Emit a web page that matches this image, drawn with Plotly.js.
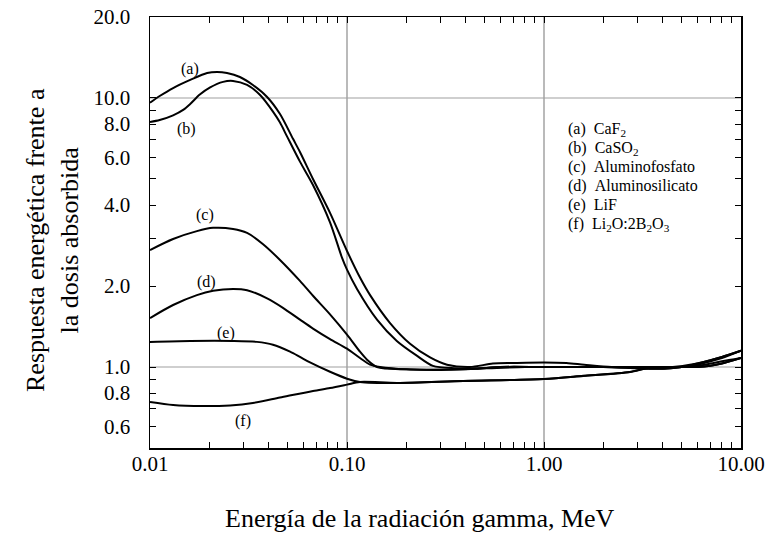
<!DOCTYPE html>
<html>
<head>
<meta charset="utf-8">
<script src="https://cdn.plot.ly/plotly-3.0.1.min.js"></script>
<style>html,body{margin:0;padding:0;background:#fff;}#chart{width:768px;height:537px;}</style>
</head>
<body>
<div id="chart"></div>
<script>
// Energy (MeV) and relative response for each material
var xA = [0.01, 0.0112, 0.0131, 0.016, 0.0195, 0.0219, 0.0246, 0.0286, 0.0333, 0.0393, 0.0457, 0.0532, 0.0577, 0.0672, 0.082, 0.1, 0.1164, 0.131, 0.165, 0.209, 0.264, 0.322, 0.42, 0.55, 0.7, 1.0, 1.3, 1.6, 2.2, 3.0, 4.0, 5.0, 6.0, 7.0, 8.0, 10.0];
var yA = [9.61, 10.17, 10.89, 11.67, 12.39, 12.50, 12.39, 11.97, 11.18, 10.09, 8.72, 7.05, 6.3, 5.0, 3.74, 2.7, 2.15, 1.85, 1.46, 1.22, 1.085, 1.02, 1.0, 1.03, 1.035, 1.04, 1.035, 1.02, 1.0, 1.0, 1.0, 1.0, 1.03, 1.06, 1.09, 1.15];

var xB = [0.01, 0.0112, 0.0131, 0.0148, 0.016, 0.0179, 0.0202, 0.0235, 0.0264, 0.0311, 0.0362, 0.0421, 0.0457, 0.0496, 0.0577, 0.0672, 0.082, 0.0943, 0.1, 0.1124, 0.142, 0.179, 0.227, 0.273, 0.35, 0.5, 0.8, 1.5, 3.0, 4.5, 6.0, 7.0, 8.0, 10.0];
var yB = [8.14, 8.28, 8.62, 9.05, 9.5, 10.3, 10.95, 11.48, 11.57, 11.18, 10.26, 8.9, 8.1, 7.2, 5.8, 4.75, 3.45, 2.55, 2.3, 1.95, 1.5, 1.25, 1.1, 1.01, 0.99, 0.99, 1.0, 1.0, 1.0, 1.0, 1.03, 1.06, 1.09, 1.15];

var xC = [0.01, 0.0131, 0.0173, 0.0209, 0.0264, 0.0311, 0.0375, 0.0457, 0.0577, 0.0672, 0.082, 0.1, 0.1164, 0.1264, 0.142, 0.2, 0.3, 0.45, 0.6, 1.0, 2.0, 3.0, 4.0, 5.0, 6.0, 7.0, 8.0, 10.0];
var yC = [2.72, 2.99, 3.20, 3.29, 3.26, 3.15, 2.86, 2.50, 2.09, 1.84, 1.57, 1.32, 1.14, 1.065, 1.0, 0.98, 0.975, 0.985, 1.0, 1.0, 1.0, 0.99, 0.985, 1.0, 1.02, 1.05, 1.08, 1.15];

var xD = [0.01, 0.0131, 0.0173, 0.0209, 0.0264, 0.0311, 0.0393, 0.0473, 0.0577, 0.0672, 0.082, 0.1, 0.1164, 0.1309, 0.147, 0.2, 0.3, 0.45, 0.6, 1.0, 2.0, 3.0, 4.0, 5.0, 6.0, 7.0, 8.0, 10.0];
var yD = [1.52, 1.70, 1.85, 1.92, 1.95, 1.93, 1.80, 1.66, 1.50, 1.39, 1.27, 1.17, 1.08, 1.02, 1.0, 0.98, 0.978, 0.985, 1.0, 1.0, 1.0, 0.99, 0.985, 1.0, 1.01, 1.03, 1.05, 1.08];

var xE = [0.01, 0.016, 0.0264, 0.0349, 0.0421, 0.0514, 0.0577, 0.0649, 0.082, 0.1, 0.1164, 0.18, 0.39, 1.0, 1.58, 2.73, 3.33, 4.0, 5.0, 6.0, 7.0, 8.0, 10.0];
var yE = [1.24, 1.25, 1.25, 1.24, 1.21, 1.14, 1.09, 1.04, 0.96, 0.905, 0.880, 0.872, 0.887, 0.902, 0.926, 0.958, 0.99, 1.0, 1.0, 1.0, 1.01, 1.03, 1.08];

var xF = [0.01, 0.0131, 0.0185, 0.0255, 0.0333, 0.0457, 0.0672, 0.082, 0.1, 0.1164, 0.18, 0.39, 1.0, 1.58, 2.73, 3.33, 4.0, 5.0, 6.0, 7.0, 8.0, 10.0];
var yF = [0.741, 0.722, 0.716, 0.72, 0.735, 0.77, 0.815, 0.835, 0.86, 0.880, 0.873, 0.888, 0.903, 0.927, 0.959, 0.99, 1.0, 1.0, 1.0, 1.01, 1.03, 1.08];

var curveLabels = ['(a)', '(b)', '(c)', '(d)', '(e)', '(f)'];
var legendLines = ['(a)&#160;&#160;CaF<sub>2</sub>', '(b)&#160;&#160;CaSO<sub>2</sub>', '(c)&#160;&#160;Aluminofosfato', '(d)&#160;&#160;Aluminosilicato', '(e)&#160;&#160;LiF', '(f)&#160;&#160;Li<sub>2</sub>O:2B<sub>2</sub>O<sub>3</sub>'];

var xTickVals = [0.01, 0.1, 1, 10];
var xTickText = ['0.01', '0.10', '1.00', '10.00'];
var xMinorVals = [0.02,0.03,0.04,0.05,0.06,0.07,0.08,0.09,0.2,0.3,0.4,0.5,0.6,0.7,0.8,0.9,2,3,4,5,6,7,8,9];
var yTickVals = [0.6, 0.8, 1, 2, 4, 6, 8, 10, 20];
var yTickText = ['0.6', '0.8', '1.0', '2.0', '4.0', '6.0', '8.0', '10.0', '20.0'];
var yMinorVals = [0.7, 0.9, 3, 5, 7, 9];
var xGrid = [0.1, 1];
var yGrid = [1, 10];
var xTitle = 'Energía de la radiación gamma, MeV';
var yTitle = 'Respuesta energética frente a<br>la dosis absorbida';

var serif = 'Liberation Serif, Times New Roman, serif';
var xs = [xA, xB, xC, xD, xE, xF];
var ys = [yA, yB, yC, yD, yE, yF];
var traces = xs.map(function (x, i) {
  return {x: x, y: ys[i], type: 'scatter', mode: 'lines', name: curveLabels[i],
    line: {color: '#000', width: 2, shape: 'spline', smoothing: 0.8}, showlegend: false, hoverinfo: 'skip'};
});

var xRange = [-2, 1];
var yRange = [Math.log10(0.5), Math.log10(20)];
function xPaper(v){ return (Math.log10(v) - xRange[0]) / (xRange[1] - xRange[0]); }
function yPaper(v){ return (Math.log10(v) - yRange[0]) / (yRange[1] - yRange[0]); }

var shapes = [];
xGrid.forEach(function (v) {
  shapes.push({type: 'line', xref: 'paper', yref: 'paper', x0: xPaper(v), x1: xPaper(v), y0: 0, y1: 1,
    line: {color: '#8c8c8c', width: 1.2}, layer: 'below'});
});
yGrid.forEach(function (v) {
  shapes.push({type: 'line', xref: 'paper', yref: 'paper', x0: 0, x1: 1, y0: yPaper(v), y1: yPaper(v),
    line: {color: '#a0a0a0', width: 1.2}, layer: 'below'});
});

// Curve label positions (paper coords)
var labelPos = [[0.068, 0.880], [0.061, 0.741], [0.093, 0.541], [0.095, 0.386], [0.129, 0.267], [0.157, 0.062]];
var annotations = curveLabels.map(function (t, i) {
  return {text: t, xref: 'paper', yref: 'paper', x: labelPos[i][0], y: labelPos[i][1], showarrow: false,
    font: {family: serif, size: 16, color: '#000'}, xanchor: 'center', yanchor: 'middle'};
});
legendLines.forEach(function (t, i) {
  annotations.push({text: t, xref: 'paper', yref: 'paper', x: (566 - 150) / 591, y: (448 - (129 + i * 19)) / 431,
    showarrow: false, xanchor: 'left', yanchor: 'middle', align: 'left',
    font: {family: serif, size: 16, color: '#000'}});
});
annotations.push({text: xTitle, xref: 'paper', yref: 'paper', x: (420 - 150) / 591, y: (448 - 518) / 431,
  showarrow: false, xanchor: 'center', yanchor: 'middle', font: {family: serif, size: 26, color: '#000'}});
annotations.push({text: yTitle, xref: 'paper', yref: 'paper', x: (52 - 150) / 591, y: (448 - 240) / 431,
  showarrow: false, xanchor: 'center', yanchor: 'middle', textangle: -90,
  font: {family: serif, size: 26, color: '#000'}});

function axisBase() {
  return {type: 'log', showgrid: false, zeroline: false,
    showline: true, linecolor: '#000', linewidth: 1.5, mirror: 'ticks',
    ticks: 'inside', ticklen: 6, tickwidth: 1, tickcolor: '#000', tickmode: 'array',
    tickfont: {family: serif, size: 21, color: '#000'}};
}
var xaxis = axisBase();
xaxis.range = xRange; xaxis.tickvals = xTickVals; xaxis.ticktext = xTickText; xaxis.ticklabelstandoff = -4;
xaxis.minor = {tickmode: 'array', tickvals: xMinorVals, ticks: 'inside', ticklen: 6, tickwidth: 1, tickcolor: '#000', showgrid: false};
var yaxis = axisBase();
yaxis.range = yRange; yaxis.tickvals = yTickVals; yaxis.ticktext = yTickText; yaxis.ticklabelstandoff = 14;
yaxis.minor = {tickmode: 'array', tickvals: yMinorVals, ticks: 'inside', ticklen: 6, tickwidth: 1, tickcolor: '#000', showgrid: false};

var layout = {
  width: 768, height: 537,
  margin: {l: 150, r: 27, t: 17, b: 89},
  paper_bgcolor: '#fff', plot_bgcolor: '#fff',
  font: {family: serif, color: '#000'},
  xaxis: xaxis, yaxis: yaxis,
  shapes: shapes,
  annotations: annotations,
  showlegend: false
};

Plotly.newPlot('chart', traces, layout, {displayModeBar: false, staticPlot: true});
</script>
</body>
</html>
